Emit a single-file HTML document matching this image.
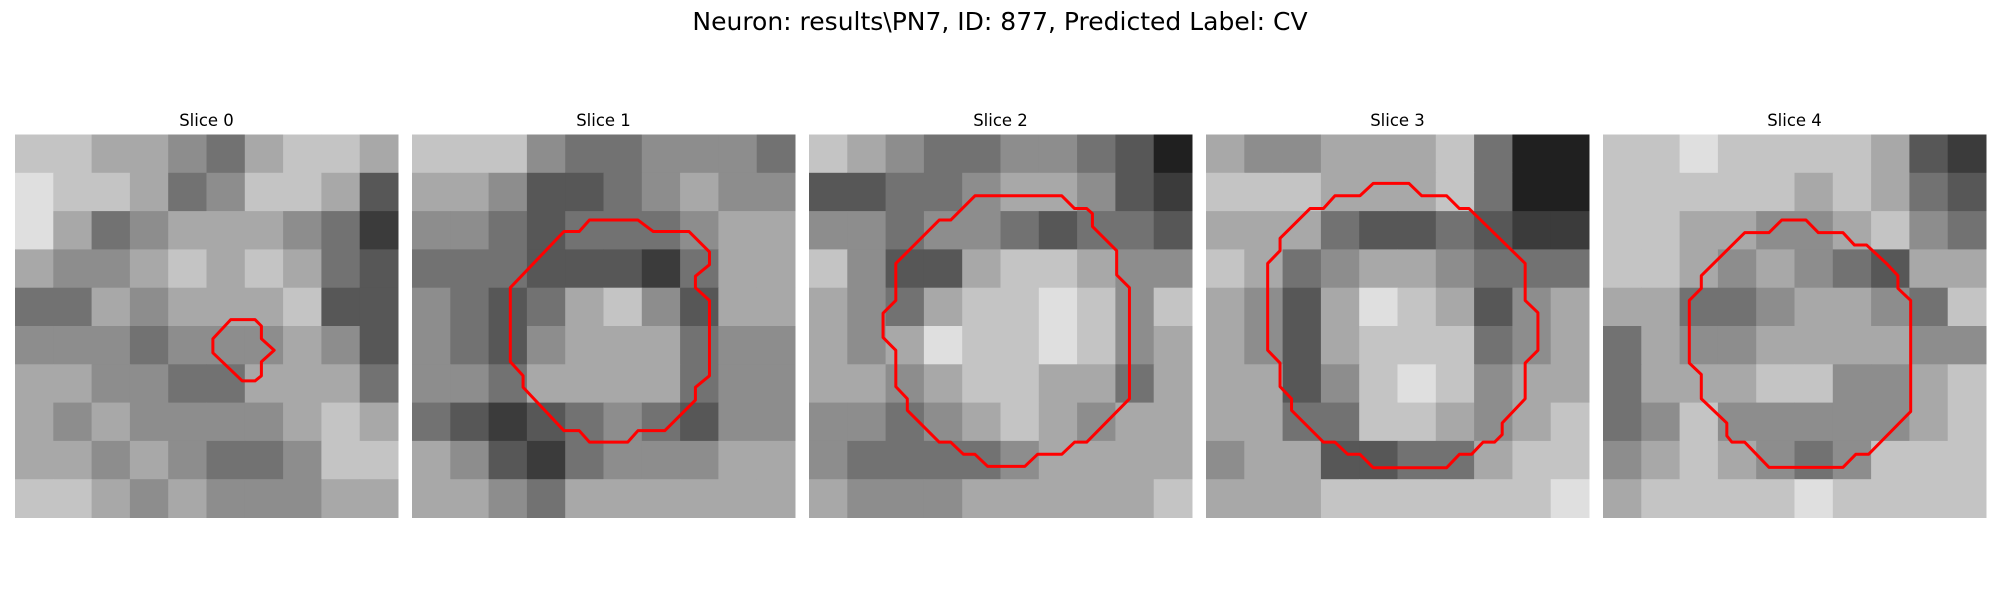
<!DOCTYPE html>
<html><head><meta charset="utf-8"><style>
html,body{margin:0;padding:0;background:#fff;}
svg{display:block;}
text{font-family:"DejaVu Sans","Liberation Sans",sans-serif;fill:#000;}
</style></head><body>
<svg id="fig" width="2000" height="600" viewBox="0 0 2000 600" xmlns="http://www.w3.org/2000/svg">
<text x="1000" y="30" text-anchor="middle" font-size="25">Neuron: results\PN7, ID: 877, Predicted Label: CV</text>
<g id="panels"></g>
</svg>
<script>
const sliceTitles = ["Slice 0","Slice 1","Slice 2","Slice 3","Slice 4"];
const intensity0 = ["7766546776","8776457763","8645666542","6556767643","4465666733","5554555653","6655446664","6565555676","6656544577","7765655566"];
const intensity1 = ["7775445554","6653345655","5543444566","4443332466","5434675366","5435666455","5546666455","4323454355","6532455566","6654666666"];
const intensity2 = ["7654455431","3344566532","5545543443","7533677655","6546778757","6568778756","6656776646","5545676566","5444456666","6555666667"];
const intensity3 = ["6556667411","7776667411","6664334322","7645665444","6536876356","6536777456","6635787566","6644776567","5663344677","6667777778"];
const intensity4 = ["7787777632","7777767643","7766556754","7765654366","6644566547","4655666655","4666775567","4575555567","5676545777","6777787777"];
const contour0 = [[16.9,14.5],[18.8,14.5],[19.3,15],[19.3,16],[20.3,16.9],[19.3,17.8],[19.3,18.9],[18.8,19.3],[17.8,19.3],[15.5,17.1],[15.5,16]];
const contour1 = [[13.9,6.7],[17.7,6.7],[18.9,7.6],[21.7,7.6],[23.3,9.2],[23.3,10.2],[22.2,11.1],[22.2,12],[23.3,13],[23.3,18.9],[22.2,19.8],[22.2,20.8],[19.8,23.2],[17.7,23.2],[16.9,24.1],[13.9,24.1],[13.1,23.2],[11.9,23.2],[8.7,19.8],[8.7,18.9],[7.7,17.8],[7.7,12],[11.9,7.6],[13.1,7.6]];
const contour2 = [[13,4.8],[19.8,4.8],[20.8,5.8],[21.75,5.8],[22.2,6.2],[22.2,7.2],[24.1,9.1],[24.1,11],[25.1,12],[25.1,20.7],[21.75,24.1],[20.8,24.1],[19.8,25.05],[17.9,25.05],[16.9,26],[14,26],[13,25.05],[12.1,25.05],[11.1,24.1],[10.2,24.1],[7.7,21.6],[7.7,20.7],[6.8,19.75],[6.8,16.9],[5.8,15.9],[5.8,14],[6.8,13],[6.8,10.1],[10.2,6.7],[11.1,6.7]];
const contour3 = [[13.1,3.83],[15.9,3.83],[16.9,4.8],[18.85,4.8],[19.85,5.8],[20.6,5.8],[25,10.1],[25,13],[26,13.96],[26,16.9],[25,17.9],[25,20.7],[23.2,22.6],[23.2,23.5],[22.6,24.1],[21.7,24.1],[20.8,25.05],[19.85,25.05],[18.85,26.1],[13.1,26.1],[12.06,25.05],[11.1,25.05],[10.1,24.1],[9.2,24.1],[6.7,21.6],[6.7,20.7],[5.8,19.75],[5.8,17.9],[4.83,16.9],[4.83,10.1],[5.8,9.1],[5.8,8.13],[8.15,5.8],[9.2,5.8],[10.1,4.8],[12.06,4.8]];
const contour4 = [[14,6.7],[15.9,6.7],[16.87,7.69],[18.8,7.69],[19.7,8.66],[20.65,8.66],[22.2,10.1],[23.1,11.06],[23.1,12.05],[24.1,13],[24.1,21.7],[20.8,25.05],[19.8,25.05],[18.8,26.07],[13,26.07],[11.1,24.1],[10.1,24.1],[9.7,23.6],[9.7,22.6],[7.7,20.7],[7.7,18.8],[6.76,17.9],[6.76,13],[7.7,12.05],[7.7,11.06],[11.1,7.69],[13,7.69]];
const intensities=[intensity0,intensity1,intensity2,intensity3,intensity4];
const contours=[contour0,contour1,contour2,contour3,contour4];

const NS="http://www.w3.org/2000/svg";
const panelX0=15, panelY0=134.5, panelStep=397, panelSize=383, gridCells=30;
const cellPx=panelSize/gridCells;
function xScale(p,c){return panelX0+p*panelStep+c*cellPx;}
function yScale(r){return panelY0+r*cellPx;}
function gray(v){const g=Math.round(v/9*245+5);return `rgb(${g},${g},${g})`;}
const root=document.getElementById('panels');
for(let p=0;p<5;p++){
  const g=document.createElementNS(NS,'g');
  
  
  root.appendChild(g);
  const t=document.createElementNS(NS,'text');
  t.setAttribute('x',panelX0+p*panelStep+panelSize/2);
  t.setAttribute('y',126);
  t.setAttribute('text-anchor','middle');
  t.setAttribute('font-size','16.5');
  t.textContent=sliceTitles[p];
  
  
  g.appendChild(t);
  const rows=intensities[p];
  const n=rows.length, blk=gridCells/n;
  for(let r=0;r<n;r++){
    for(let c=0;c<rows[r].length;c++){
      const rect=document.createElementNS(NS,'rect');
      const x0=xScale(p,c*blk), y0=yScale(r*blk);
      rect.setAttribute('x',x0);
      rect.setAttribute('y',y0);
      rect.setAttribute('width',blk*cellPx+0.5);
      rect.setAttribute('height',blk*cellPx+0.5);
      rect.setAttribute('fill',gray(+rows[r][c]));
      
      
      g.appendChild(rect);
    }
  }
  const poly=document.createElementNS(NS,'polygon');
  poly.setAttribute('points',contours[p].map(q=>xScale(p,q[0])+','+yScale(q[1])).join(' '));
  poly.setAttribute('fill','none');
  poly.setAttribute('stroke','#ff0000');
  poly.setAttribute('stroke-width','3');
  poly.setAttribute('stroke-linejoin','round');
  
  
  g.appendChild(poly);
}
</script>
</body></html>
